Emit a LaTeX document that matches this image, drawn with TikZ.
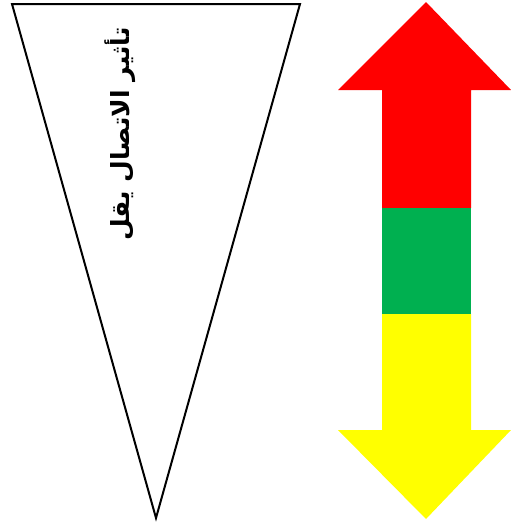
\documentclass[tikz,border=0pt]{standalone}
\usepackage{fontspec}
\newfontfamily\arabicfont[Script=Arabic]{DejaVu Sans}
\TeXXeTstate=1
\usepackage{xcolor}
\usetikzlibrary{positioning,calc}
\definecolor{uppart}{RGB}{255,0,0}
\definecolor{midpart}{RGB}{0,176,80}
\definecolor{downpart}{RGB}{255,255,0}

\begin{document}
\begin{tikzpicture}[x=1pt,y=-1pt]
      \useasboundingbox (0,0) rectangle (511,522);
      % funnel
      \coordinate (tl) at (12,4);
      \coordinate (tr) at (300,4);
      \coordinate (tip) at (156,518);
      \draw[line width=2pt,line join=miter] (tl) -- (tr) -- (tip) -- cycle;
      \node[rotate=90,font=\arabicfont\bfseries\fontsize{25}{30}\selectfont,inner sep=0pt] (effect) at (120,134) {\beginR تأثير الاتصال  يقل\endR};
      % double arrow
      \fill[uppart] (426,2) -- (511,90) -- (471,90) -- (471,208) -- (382,208) -- (382,90) -- (338,90) -- cycle;
      \fill[midpart] (382,208) rectangle (471,314);
      \fill[downpart] (382,314) -- (471,314) -- (471,430) -- (511,430) -- (426,519) -- (338,430) -- (382,430) -- cycle;
    \end{tikzpicture}
\end{document}
